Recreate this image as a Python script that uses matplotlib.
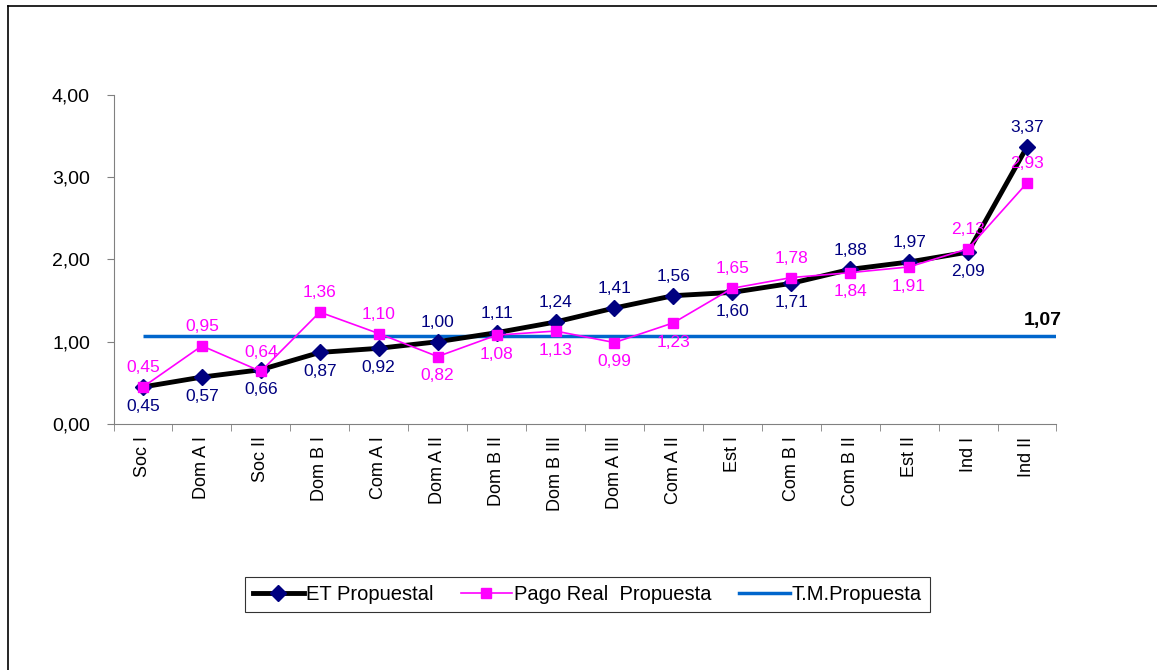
import matplotlib.pyplot as plt
import matplotlib.lines as mlines

plt.rcParams['font.family'] = ['Liberation Sans', 'DejaVu Sans']

categories = ['Soc I', 'Dom A I', 'Soc II', 'Dom B I', 'Com A I', 'Dom A II', 'Dom B II',
              'Dom B III', 'Dom A III', 'Com A II', 'Est I', 'Com B I', 'Com B II',
              'Est II', 'Ind I', 'Ind II']
et_propuesta = [0.45, 0.57, 0.66, 0.87, 0.92, 1.00, 1.11, 1.24, 1.41, 1.56, 1.60,
                1.71, 1.88, 1.97, 2.09, 3.37]
pago_real = [0.45, 0.95, 0.64, 1.36, 1.10, 0.82, 1.08, 1.13, 0.99, 1.23, 1.65,
             1.78, 1.84, 1.91, 2.13, 2.93]
tm_propuesta = 1.07

# label placement: +1 above the point, -1 below
et_side = [-1, -1, -1, -1, -1, 1, 1, 1, 1, 1, -1, -1, 1, 1, -1, 1]
pago_side = [1, 1, 1, 1, 1, -1, -1, -1, -1, -1, 1, 1, -1, -1, 1, 1]

ET_COLOR = '#000080'
PAGO_COLOR = '#FF00FF'
TM_COLOR = '#0066CC'


def fmt(v):
    return f'{v:.2f}'.replace('.', ',')


fig = plt.figure(figsize=(11.57, 6.70), dpi=100)
ax = fig.add_axes([0.0981, 0.3672, 0.8150, 0.4910])

# chart area border (only left and top edges show in the picture)
fig.add_artist(mlines.Line2D([0.0068, 0.0068], [0.0, 0.9903], transform=fig.transFigure,
                             color='black', linewidth=1.2))
fig.add_artist(mlines.Line2D([0.0068, 1.0], [0.9903, 0.9903], transform=fig.transFigure,
                             color='black', linewidth=1.2))

x = list(range(len(categories)))

ax.hlines(tm_propuesta, 0, len(categories) - 0.5, colors=TM_COLOR, linewidth=2.5, zorder=2)
ax.plot(x, et_propuesta, color='black', linewidth=3.5, marker='D', markersize=8,
        markerfacecolor=ET_COLOR, markeredgecolor=ET_COLOR, zorder=3)
ax.plot(x, pago_real, color=PAGO_COLOR, linewidth=1.2, marker='s', markersize=7,
        markerfacecolor=PAGO_COLOR, markeredgecolor=PAGO_COLOR, zorder=4)

for i in x:
    s = et_side[i]
    ax.annotate(fmt(et_propuesta[i]), (i, et_propuesta[i]), xytext=(0, 8.5 * s),
                textcoords='offset points', ha='center',
                va='bottom' if s > 0 else 'top', fontsize=12.5, color=ET_COLOR)
    s = pago_side[i]
    ax.annotate(fmt(pago_real[i]), (i, pago_real[i]), xytext=(0, 8.5 * s),
                textcoords='offset points', ha='center',
                va='bottom' if s > 0 else 'top', fontsize=12.5, color=PAGO_COLOR)

ax.annotate(fmt(tm_propuesta), (15.26, tm_propuesta), xytext=(0, 5),
            textcoords='offset points', ha='center', va='bottom', fontsize=14,
            fontweight='bold', color='black')

ax.set_xlim(-0.5, len(categories) - 0.5)
ax.set_ylim(0, 4)
ax.set_yticks([0, 1, 2, 3, 4])
ax.set_yticklabels([fmt(v) for v in [0, 1, 2, 3, 4]], fontsize=14)

ax.set_xticks(x)
ax.set_xticklabels(categories, rotation=90, fontsize=13)
ax.tick_params(axis='x', length=0, pad=9)
ax.set_xticks([i - 0.5 for i in range(len(categories) + 1)], minor=True)
ax.tick_params(axis='x', which='minor', length=5, direction='out', color='#808080')
ax.tick_params(axis='y', length=5, direction='out', color='#808080', pad=12)

for side in ['top', 'right']:
    ax.spines[side].set_visible(False)
ax.spines['left'].set_color('#808080')
ax.spines['bottom'].set_color('#808080')

handles = [
    mlines.Line2D([0], [0], color='black', linewidth=3.5, marker='D', markersize=8,
                  markerfacecolor=ET_COLOR, markeredgecolor=ET_COLOR),
    mlines.Line2D([0], [0], color=PAGO_COLOR, linewidth=1.2, marker='s', markersize=7,
                  markerfacecolor=PAGO_COLOR, markeredgecolor=PAGO_COLOR),
    mlines.Line2D([0], [0], color=TM_COLOR, linewidth=2.5),
]
leg = fig.legend(handles, ['ET Propuestal', 'Pago Real  Propuesta', 'T.M.Propuesta'],
                 loc='center', bbox_to_anchor=(0.5078, 0.1127), ncol=3, fontsize=14.5,
                 frameon=True, fancybox=False, edgecolor='black', handlelength=2.5,
                 handletextpad=0.1, columnspacing=1.4, borderpad=0.4)
leg.get_frame().set_linewidth(0.8)

fig.savefig('out.png', dpi=100)
